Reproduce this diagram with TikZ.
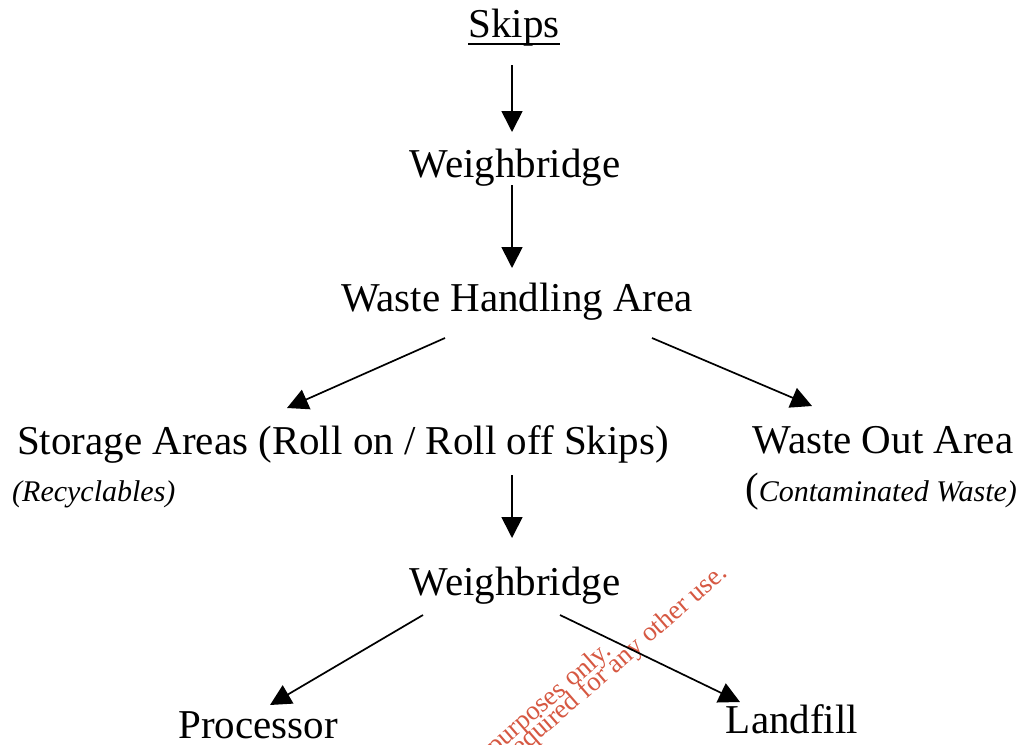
\documentclass[tikz,border=0pt]{standalone}
\usepackage{fontspec}
\setmainfont{Liberation Serif}
\usetikzlibrary{arrows.meta,calc}
\definecolor{wmred}{RGB}{214,88,66}
\begin{document}
\begin{tikzpicture}[x=1pt,y=-1pt,
  lbl/.style={font=\fontsize{41}{48}\selectfont, inner sep=0pt, anchor=base},
  note/.style={font=\fontsize{30}{34}\selectfont\itshape, inner sep=0pt, anchor=base west},
  arr/.style={line width=1.7pt, -{Triangle[length=21pt,width=21pt]}},
  wm/.style={font=\fontsize{27}{27}\selectfont, text=wmred, inner sep=0pt, anchor=base east, rotate=41}]
\useasboundingbox (0,0) rectangle (1024,744);

% nodes
\node[lbl] (skips) at (514,37) {Skips};
\node[lbl] (w1)    at (515,177) {Weighbridge};
\node[lbl] (wha)   at (517,311) {Waste Handling Area};
\node[lbl] (sto)   at (343,454) {Storage Areas (Roll on / Roll off Skips)};
\node[lbl] (wout)  at (883,453) {Waste Out Area};
\node[note] (rec)  at (12,501) {(Recyclables)};
\node[note] (cont) at (745,501) {{\upshape\fontsize{41}{48}\selectfont(}Contaminated Waste)};
\node[lbl] (w2)    at (515,595) {Weighbridge};
\node[lbl] (proc)  at (258,738) {Processor};
\node[lbl] (land)  at (792,733) {Landfill};

% underline of Skips
\draw[line width=1.3pt] ([yshift=-7pt]skips.base west) -- ([yshift=-7pt]skips.base east);

% watermark
\node[wm] (wm1) at (613,653) {purposes only.};
\node[wm] (wm2) at (729,575) {required for any other use.};

% connectors
\draw[arr] ([shift={(-2,28)}]skips.base) -- ([shift={(-3,-45)}]w1.base);
\draw[arr] ([shift={(-3,8)}]w1.base) -- ([shift={(-5,-43)}]wha.base);
\draw[arr] ([shift={(-72,27)}]wha.base) -- ([shift={(-56,-46)}]sto.base);
\draw[arr] ([shift={(135,27)}]wha.base) -- ([shift={(-71,-47)}]wout.base);
\draw[arr] ([shift={(169,21)}]sto.base) -- ([shift={(-3,-57)}]w2.base);
\draw[arr] ([shift={(-92,20)}]w2.base) -- ([shift={(12,-33)}]proc.base);
\draw[arr] ([shift={(45,20)}]w2.base) -- ([shift={(-52,-31)}]land.base);
\end{tikzpicture}
\end{document}
